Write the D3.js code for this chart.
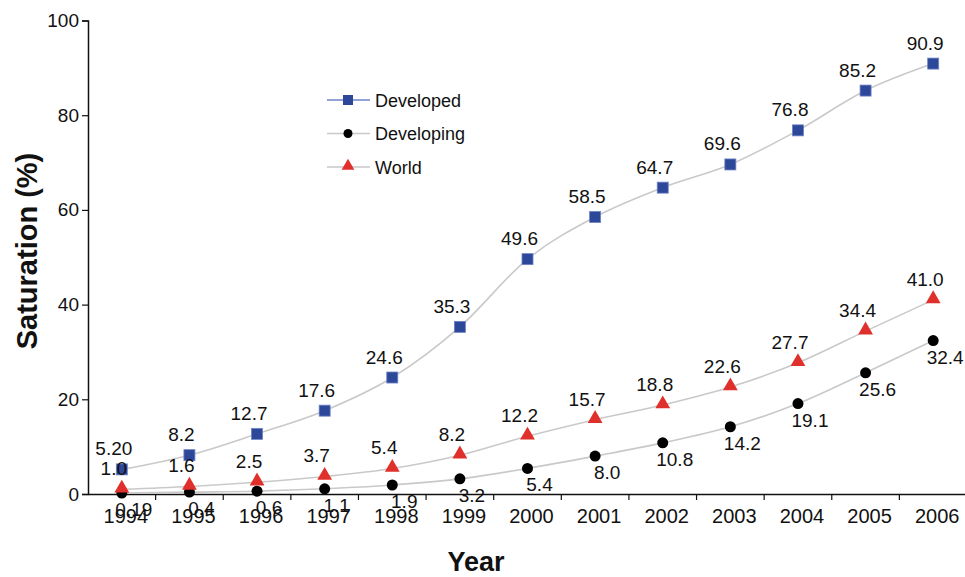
<!DOCTYPE html>
<html>
<head>
<meta charset="utf-8">
<script src="https://cdn.jsdelivr.net/npm/d3@7"></script>
<style>
  body { margin: 0; background: #fff; }
  text { font-family: "Liberation Sans", Arial, sans-serif; fill: #111; }
</style>
</head>
<body>
<div id="my_dataviz"></div>
<script>
// data
var years = ["1994","1995","1996","1997","1998","1999","2000","2001","2002","2003","2004","2005","2006"];
var developed  = [5.20, 8.2, 12.7, 17.6, 24.6, 35.3, 49.6, 58.5, 64.7, 69.6, 76.8, 85.2, 90.9];
var developing = [0.19, 0.4, 0.6, 1.1, 1.9, 3.2, 5.4, 8.0, 10.8, 14.2, 19.1, 25.6, 32.4];
var world      = [1.0, 1.6, 2.5, 3.7, 5.4, 8.2, 12.2, 15.7, 18.8, 22.6, 27.7, 34.4, 41.0];
var developedLabels  = ["5.20","8.2","12.7","17.6","24.6","35.3","49.6","58.5","64.7","69.6","76.8","85.2","90.9"];
var developingLabels = ["0.19","0.4","0.6","1.1","1.9","3.2","5.4","8.0","10.8","14.2","19.1","25.6","32.4"];
var worldLabels      = ["1.0","1.6","2.5","3.7","5.4","8.2","12.2","15.7","18.8","22.6","27.7","34.4","41.0"];
var yTicks = [0, 20, 40, 60, 80, 100];

var width = 965, height = 577;

var svg = d3.select("#my_dataviz")
  .append("svg")
    .attr("width", width)
    .attr("height", height);

// scales
var x = d3.scaleBand()
  .domain(years)
  .range([88, 967])
  .padding(0);

var y = d3.scaleLinear()
  .domain([0, 100])
  .range([494, 20.5]);

var cx = function(i) { return x(years[i]) + x.bandwidth() / 2; };

// Y axis
var yAxis = svg.append("g")
  .attr("transform", "translate(88,0)")
  .call(d3.axisLeft(y).tickValues(yTicks).tickSize(6).tickPadding(3));
yAxis.select(".domain").attr("stroke", "#111").attr("stroke-width", 1.5);
yAxis.selectAll(".tick line").attr("stroke", "#111").attr("stroke-width", 1.2);
yAxis.selectAll(".tick text")
  .style("font-size", "19px")
  .style("font-family", "Liberation Sans, Arial, sans-serif")
  .attr("fill", "#111");

// X axis: labels at band centres, tick marks at band edges
var xAxis = svg.append("g")
  .attr("transform", "translate(0,494)")
  .call(d3.axisBottom(x).tickSize(0).tickPadding(15));
xAxis.select(".domain").attr("stroke", "#111").attr("stroke-width", 1.5);
xAxis.selectAll(".tick text")
  .attr("dx", 4)
  .style("font-size", "20px")
  .style("font-family", "Liberation Sans, Arial, sans-serif")
  .attr("fill", "#111");

svg.append("g")
  .selectAll("line")
  .data(years.slice(1))
  .enter()
  .append("line")
    .attr("x1", function(d) { return x(d); })
    .attr("x2", function(d) { return x(d); })
    .attr("y1", 494)
    .attr("y2", 500)
    .attr("stroke", "#111")
    .attr("stroke-width", 1.2);

// axis titles
svg.append("text")
  .attr("text-anchor", "middle")
  .attr("transform", "translate(37,251) rotate(-90)")
  .style("font-size", "29px")
  .style("font-weight", "bold")
  .text("Saturation (%)");

svg.append("text")
  .attr("text-anchor", "middle")
  .attr("x", 476)
  .attr("y", 571)
  .style("font-size", "27px")
  .style("font-weight", "bold")
  .text("Year");

// lines
var line = d3.line()
  .x(function(d, i) { return cx(i); })
  .y(function(d) { return y(d); })
  .curve(d3.curveMonotoneX);

[developed, world, developing].forEach(function(series) {
  svg.append("path")
    .datum(series)
    .attr("fill", "none")
    .attr("stroke", "#c9c9c9")
    .attr("stroke-width", 1.6)
    .attr("d", line);
});

var blue = "#2d4899", red = "#e0302b";
var tri = d3.symbol().type(d3.symbolTriangle).size(95);

// markers
svg.append("g").selectAll("rect")
  .data(developed).enter().append("rect")
    .attr("x", function(d, i) { return cx(i) - 5.5; })
    .attr("y", function(d) { return y(d) - 5.5; })
    .attr("width", 11).attr("height", 11)
    .attr("fill", blue)
    .attr("stroke", "#6d82c4").attr("stroke-width", 0.8);

svg.append("g").selectAll("circle")
  .data(developing).enter().append("circle")
    .attr("cx", function(d, i) { return cx(i); })
    .attr("cy", function(d) { return y(d); })
    .attr("r", 5.5)
    .attr("fill", "#000");

svg.append("g").selectAll("path")
  .data(world).enter().append("path")
    .attr("d", tri)
    .attr("transform", function(d, i) { return "translate(" + cx(i) + "," + (y(d) - 1) + ")"; })
    .attr("fill", red);

// value labels
function addLabels(values, labels, dx, dy) {
  svg.append("g").selectAll("text")
    .data(values).enter().append("text")
      .attr("x", function(d, i) { return cx(i) + dx; })
      .attr("y", function(d) { return y(d) + dy; })
      .attr("text-anchor", "middle")
      .style("font-size", "19px")
      .text(function(d, i) { return labels[i]; });
}
addLabels(developed, developedLabels, -8, -14);
addLabels(world, worldLabels, -8, -14);
addLabels(developing, developingLabels, 12, 23);

// legend
var legend = [
  {name: "Developed", line: "#6f83c6"},
  {name: "Developing", line: "#c9c9c9"},
  {name: "World", line: "#c9c9c9"}
];
var lg = svg.append("g");
legend.forEach(function(d, i) {
  var ly = 100 + i * 33.5;
  lg.append("line")
    .attr("x1", 327).attr("x2", 370)
    .attr("y1", ly).attr("y2", ly)
    .attr("stroke", d.line).attr("stroke-width", 1.4);
  if (i === 0) {
    lg.append("rect").attr("x", 343).attr("y", ly - 5).attr("width", 10).attr("height", 10).attr("fill", blue);
  } else if (i === 1) {
    lg.append("circle").attr("cx", 348).attr("cy", ly).attr("r", 4.5).attr("fill", "#000");
  } else {
    lg.append("path").attr("d", d3.symbol().type(d3.symbolTriangle).size(70))
      .attr("transform", "translate(348," + (ly - 1) + ")").attr("fill", red);
  }
  lg.append("text")
    .attr("x", 375).attr("y", ly + 6.5)
    .style("font-size", "18px")
    .text(d.name);
});
</script>
</body>
</html>
